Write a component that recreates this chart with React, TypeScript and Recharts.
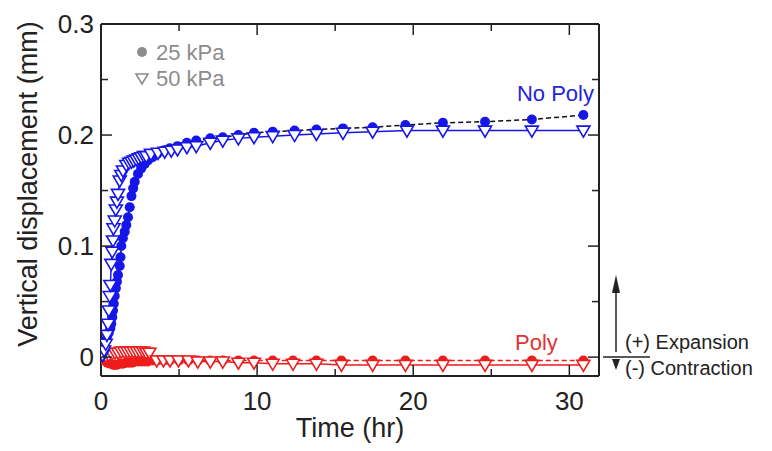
import { ScatterChart, Scatter, XAxis, YAxis } from "recharts";

// [time (hr), vertical displacement (mm)]
const noPoly25: [number, number][] = [
  [0, 0], [0.1, 0.003], [0.15, 0.007], [0.2, 0.011], [0.3, 0.015], [0.4, 0.019], [0.5, 0.022],
  [0.6, 0.026], [0.66, 0.03], [0.72, 0.036], [0.77, 0.042], [0.82, 0.048], [0.88, 0.055],
  [0.95, 0.062], [1.02, 0.068], [1.09, 0.074], [1.2, 0.082], [1.25, 0.09], [1.3, 0.1],
  [1.4, 0.107], [1.52, 0.113], [1.62, 0.119], [1.73, 0.126], [1.84, 0.135], [1.95, 0.145],
  [2.06, 0.152], [2.16, 0.158], [2.37, 0.165], [2.58, 0.17], [2.8, 0.174], [3.0, 0.177],
  [3.3, 0.18], [3.6, 0.183], [4.0, 0.186], [4.4, 0.188], [4.9, 0.19], [5.5, 0.193],
  [6.1, 0.195], [7.0, 0.197], [7.8, 0.198], [8.8, 0.2], [9.8, 0.202], [11.0, 0.203],
  [12.4, 0.204], [13.8, 0.205], [15.5, 0.206], [17.4, 0.207], [19.5, 0.209], [21.9, 0.211],
  [24.6, 0.212], [27.6, 0.214], [30.9, 0.218],
];

const noPoly50: [number, number][] = [
  [0.1, 0.002], [0.2, 0.006], [0.3, 0.012], [0.38, 0.02], [0.45, 0.03], [0.5, 0.042],
  [0.56, 0.055], [0.6, 0.065], [0.66, 0.084], [0.72, 0.095], [0.77, 0.105], [0.8, 0.116],
  [0.88, 0.123], [0.95, 0.133], [1.02, 0.14], [1.09, 0.147], [1.2, 0.159], [1.3, 0.164],
  [1.41, 0.168], [1.62, 0.173], [1.8, 0.175], [1.95, 0.176], [2.1, 0.177], [2.26, 0.178],
  [2.42, 0.179], [2.58, 0.18], [2.75, 0.181], [2.9, 0.181], [3.2, 0.183], [3.65, 0.184],
  [4.08, 0.185], [4.5, 0.186], [4.9, 0.187], [5.5, 0.189], [6.1, 0.19], [7.0, 0.193],
  [7.8, 0.195], [8.8, 0.197], [9.8, 0.198], [11.0, 0.199], [12.4, 0.2], [13.8, 0.201],
  [15.5, 0.202], [17.4, 0.203], [19.6, 0.204], [21.9, 0.204], [24.6, 0.204], [27.6, 0.204],
  [30.9, 0.204],
];

const poly25: [number, number][] = [
  [0, 0], [0.2, -0.003], [0.4, -0.005], [0.6, -0.006], [0.8, -0.007], [1.0, -0.007],
  [1.2, -0.006], [1.4, -0.006], [1.6, -0.005], [1.8, -0.005], [2.0, -0.005], [2.2, -0.004],
  [2.4, -0.004], [2.6, -0.004], [2.8, -0.004], [3.0, -0.004], [3.3, -0.003], [3.6, -0.003],
  [4.0, -0.003], [4.4, -0.003], [5.0, -0.003], [5.6, -0.003], [6.2, -0.003], [7.0, -0.003],
  [7.8, -0.003], [8.8, -0.003], [9.8, -0.003], [11.0, -0.003], [12.3, -0.003], [13.8, -0.003],
  [15.4, -0.003], [17.4, -0.003], [19.5, -0.003], [21.9, -0.003], [24.6, -0.003],
  [27.6, -0.003], [30.9, -0.003],
];

const poly50: [number, number][] = [
  [0, 0], [0.3, 0.001], [0.5, 0.002], [0.7, 0.003], [0.9, 0.004], [1.1, 0.004], [1.3, 0.005],
  [1.5, 0.005], [1.7, 0.005], [1.9, 0.005], [2.1, 0.005], [2.3, 0.005], [2.5, 0.005],
  [2.7, 0.005], [2.9, 0.004], [3.1, 0.004], [3.57, -0.003], [4.0, -0.003], [4.42, -0.003],
  [4.96, -0.003], [5.6, -0.003], [6.2, -0.004], [7.0, -0.004], [7.8, -0.004], [8.8, -0.005],
  [9.8, -0.005], [11.0, -0.006], [12.3, -0.006], [13.8, -0.006], [15.4, -0.007],
  [17.4, -0.007], [19.5, -0.007], [21.9, -0.007], [24.6, -0.007], [27.6, -0.007],
  [30.9, -0.007],
];

const xTicks = [0, 5, 10, 15, 20, 25, 30];
const xMajor = [0, 10, 20, 30];
const yTicks = [0, 0.05, 0.1, 0.15, 0.2, 0.25, 0.3];
const yMajor = [0, 0.1, 0.2, 0.3];

const BLUE = "#1616e8";
const RED = "#ee1c1c";
const INK = "#222";
const FONT = "'Liberation Sans', Arial, sans-serif";

const toPts = (arr: [number, number][]) => arr.map(([t, v]) => ({ t, v }));

const Dot = (color: string) => (p: any) => (
  <circle cx={p.cx} cy={p.cy} r={5} fill={color} />
);
const Tri = (color: string) => (p: any) => (
  <polygon
    points={`${p.cx - 6.5},${p.cy - 4.5} ${p.cx + 6.5},${p.cy - 4.5} ${p.cx},${p.cy + 6.5}`}
    fill="#fff"
    stroke={color}
    strokeWidth={1.6}
  />
);

const BottomTick = ({ x, y, payload }: any) => {
  const major = xMajor.includes(payload.value);
  return (
    <g>
      <line x1={x} x2={x} y1={y} y2={y - (major ? 11 : 7)} stroke={INK} strokeWidth={1.5} />
      {major && (
        <text x={x} y={y + 34} textAnchor="middle" fontSize={26} fill={INK} fontFamily={FONT}>
          {payload.value}
        </text>
      )}
    </g>
  );
};
const TopTick = ({ x, y, payload }: any) => {
  const major = xMajor.includes(payload.value);
  return <line x1={x} x2={x} y1={y} y2={y + (major ? 11 : 7)} stroke={INK} strokeWidth={1.5} />;
};
const LeftTick = ({ x, y, payload }: any) => {
  const major = yMajor.includes(payload.value);
  return (
    <g>
      <line x1={x} x2={x + (major ? 11 : 7)} y1={y} y2={y} stroke={INK} strokeWidth={1.5} />
      {major && (
        <text x={x - 7} y={y + 9} textAnchor="end" fontSize={26} fill={INK} fontFamily={FONT}>
          {payload.value}
        </text>
      )}
    </g>
  );
};
const RightTick = ({ x, y, payload }: any) => {
  const major = yMajor.includes(payload.value);
  return <line x1={x} x2={x - (major ? 11 : 7)} y1={y} y2={y} stroke={INK} strokeWidth={1.5} />;
};

export default function App() {
  const axisLine = { stroke: INK, strokeWidth: 2 };
  return (
    <div style={{ position: "absolute", left: 0, top: 0, width: 772, height: 451, fontFamily: FONT }}>
      <ScatterChart width={772} height={451} margin={{ top: 23, right: 172, bottom: 0, left: 0 }}>
        <XAxis
          xAxisId="b"
          dataKey="t"
          type="number"
          domain={[0, 31.9]}
          ticks={xTicks}
          allowDataOverflow
          height={75}
          tickSize={0}
          tickMargin={0}
          tick={<BottomTick />}
          axisLine={axisLine}
        />
        <XAxis
          xAxisId="t"
          orientation="top"
          dataKey="t"
          type="number"
          domain={[0, 31.9]}
          ticks={xTicks}
          allowDataOverflow
          height={1}
          tickSize={0}
          tickMargin={0}
          tick={<TopTick />}
          axisLine={axisLine}
        />
        <YAxis
          yAxisId="l"
          dataKey="v"
          type="number"
          domain={[-0.017, 0.3]}
          ticks={yTicks}
          allowDataOverflow
          width={101}
          tickSize={0}
          tickMargin={0}
          tick={<LeftTick />}
          axisLine={axisLine}
        />
        <YAxis
          yAxisId="r"
          orientation="right"
          dataKey="v"
          type="number"
          domain={[-0.017, 0.3]}
          ticks={yTicks}
          allowDataOverflow
          width={1}
          tickSize={0}
          tickMargin={0}
          tick={<RightTick />}
          axisLine={axisLine}
        />
        <Scatter
          xAxisId="b"
          yAxisId="l"
          data={toPts(poly25)}
          fill={RED}
          line={{ stroke: RED, strokeWidth: 1.5, strokeDasharray: "5 3" }}
          shape={Dot(RED)}
          isAnimationActive={false}
        />
        <Scatter
          xAxisId="b"
          yAxisId="l"
          data={toPts(poly50)}
          fill={RED}
          line={{ stroke: RED, strokeWidth: 1.5 }}
          shape={Tri(RED)}
          isAnimationActive={false}
        />
        <Scatter
          xAxisId="b"
          yAxisId="l"
          data={toPts(noPoly25)}
          fill={BLUE}
          line={{ stroke: "#111", strokeWidth: 1.5, strokeDasharray: "5 3" }}
          shape={Dot(BLUE)}
          isAnimationActive={false}
        />
        <Scatter
          xAxisId="b"
          yAxisId="l"
          data={toPts(noPoly50)}
          fill={BLUE}
          line={{ stroke: BLUE, strokeWidth: 1.5 }}
          shape={Tri(BLUE)}
          isAnimationActive={false}
        />
      </ScatterChart>

      {/* titles, legend and annotations */}
      <svg
        width={772}
        height={451}
        style={{ position: "absolute", left: 0, top: 0, pointerEvents: "none" }}
        fontFamily={FONT}
      >
        <text x={350} y={437} textAnchor="middle" fontSize={27} fill={INK}>
          Time (hr)
        </text>
        <text
          x={0}
          y={0}
          transform="translate(37,184) rotate(-90)"
          textAnchor="middle"
          fontSize={27}
          fill={INK}
        >
          Vertical displacement (mm)
        </text>

        <circle cx={142} cy={52} r={5} fill="#8c8c8c" />
        <text x={156} y={60} fontSize={22} fill="#8c8c8c">25 kPa</text>
        <polygon points="136,74 148,74 142,84" fill="#fff" stroke="#8c8c8c" strokeWidth={1.6} />
        <text x={156} y={86} fontSize={22} fill="#8c8c8c">50 kPa</text>

        <text x={594} y={101} textAnchor="end" fontSize={22} fill="#2626d8">No Poly</text>
        <text x={515} y={350} fontSize={22} fill="#e03434">Poly</text>

        <line x1={616} x2={616} y1={352} y2={290} stroke={INK} strokeWidth={1.5} />
        <polygon points="616,275 612,293 620,293" fill={INK} />
        <line x1={603} x2={650} y1={357} y2={357} stroke={INK} strokeWidth={1.5} />
        <polygon points="612,359 620,359 616,370" fill={INK} />
        <text x={625} y={349} fontSize={20} fill={INK}>(+) Expansion</text>
        <text x={625} y={375} fontSize={20} fill={INK}>(-) Contraction</text>
      </svg>
    </div>
  );
}
